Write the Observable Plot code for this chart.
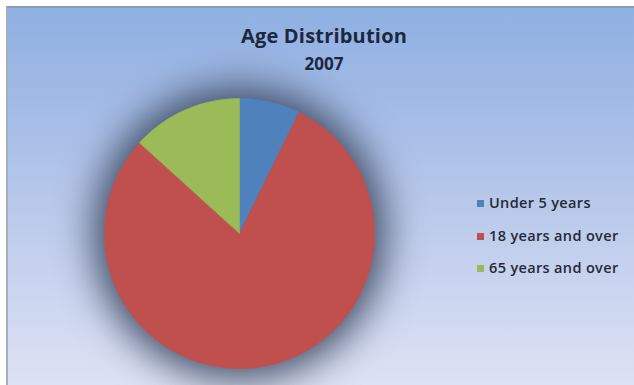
<!DOCTYPE html>
<html>
<head>
<meta charset="utf-8">
<script src="https://cdn.jsdelivr.net/npm/d3@7"></script>
<script src="https://cdn.jsdelivr.net/npm/@observablehq/plot@0.6"></script>
<style>
  html, body { margin: 0; padding: 0; background: #fff; }
  #frame {
    position: absolute; left: 6px; top: 6px; width: 628px; height: 379px;
    background: linear-gradient(to bottom, #8fb0e2 0%, #a6bde6 30%, #bfcdec 60%, #dde2f4 100%);
    border-top: 2px solid #8e98bc; border-left: 2px solid #a4b0b8;
    box-sizing: border-box; overflow: hidden;
  }
  #chart { position: absolute; left: 0; top: 0; }
  #title { position: absolute; left: 2px; width: 644px; top: 22px; text-align: center;
    font-family: "Open Sans", sans-serif; font-weight: 700; color: #1c2740; }
  #title .t1 { font-size: 20px; line-height: 28px; letter-spacing: 0.2px; }
  #title .t2 { font-size: 17px; line-height: 22px; margin-top: 3px; }
  #legend { position: absolute; left: 477px; top: 193px; font-family: "Open Sans", sans-serif;
    font-weight: 600; font-size: 14.5px; letter-spacing: 0.35px; color: #262a34; }
  #legend .row { height: 32.5px; display: flex; align-items: flex-start; }
  #legend .sw { width: 7px; height: 7px; margin: 7px 5px 0 0; }
</style>
</head>
<body>
<div id="frame"></div>
<div id="chart"></div>
<div id="title"><div class="t1"></div><div class="t2"></div></div>
<div id="legend"></div>
<script>
const categories = ["Under 5 years", "18 years and over", "65 years and over"];
const values = [6.9, 75.4, 12.6];
const colors = ["#4f81bd", "#c0504d", "#9bbb59"];
const titleText = "Age Distribution";
const subtitleText = "2007";

const data = categories.map((c, i) => ({label: c, value: values[i]}));
const arcs = d3.pie().sort(null).value(d => d.value)(data);

// Build each slice outline in unit-circle data space from the pie angles
const pts = [];
for (const a of arcs) {
  const lab = a.data.label;
  pts.push({label: lab, x: 0, y: 0});
  const n = Math.max(2, Math.ceil((a.endAngle - a.startAngle) / (Math.PI / 180)));
  for (let k = 0; k <= n; k++) {
    const t = a.startAngle + (a.endAngle - a.startAngle) * k / n;
    pts.push({label: lab, x: Math.sin(t), y: Math.cos(t)});
  }
  pts.push({label: lab, x: 0, y: 0});
}

const W = 634, H = 385;
const plot = Plot.plot({
  width: W, height: H,
  marginLeft: 104, marginRight: 260, marginTop: 98, marginBottom: 17,
  x: {domain: [-1, 1], axis: null},
  y: {domain: [-1, 1], axis: null},
  color: {domain: categories, range: colors},
  style: {background: "transparent", overflow: "visible"},
  marks: [
    Plot.dot([{x: 0, y: 0}], {x: "x", y: "y", r: 146, fill: "#3a465e", fillOpacity: 0.95, stroke: "none"}),
    Plot.line(pts, {x: "x", y: "y", z: "label", fill: "label", stroke: "label", strokeWidth: 0.6})
  ]
});
const dotG = plot.querySelector('g[aria-label="dot"]');
if (dotG) dotG.style.filter = "blur(19px)";
document.getElementById("chart").appendChild(plot);

document.querySelector("#title .t1").textContent = titleText;
document.querySelector("#title .t2").textContent = subtitleText;
const leg = document.getElementById("legend");
categories.forEach((c, i) => {
  const row = document.createElement("div");
  row.className = "row";
  const sw = document.createElement("div");
  sw.className = "sw";
  sw.style.background = colors[i];
  const tx = document.createElement("span");
  tx.textContent = c;
  row.appendChild(sw); row.appendChild(tx);
  leg.appendChild(row);
});
</script>
</body>
</html>
